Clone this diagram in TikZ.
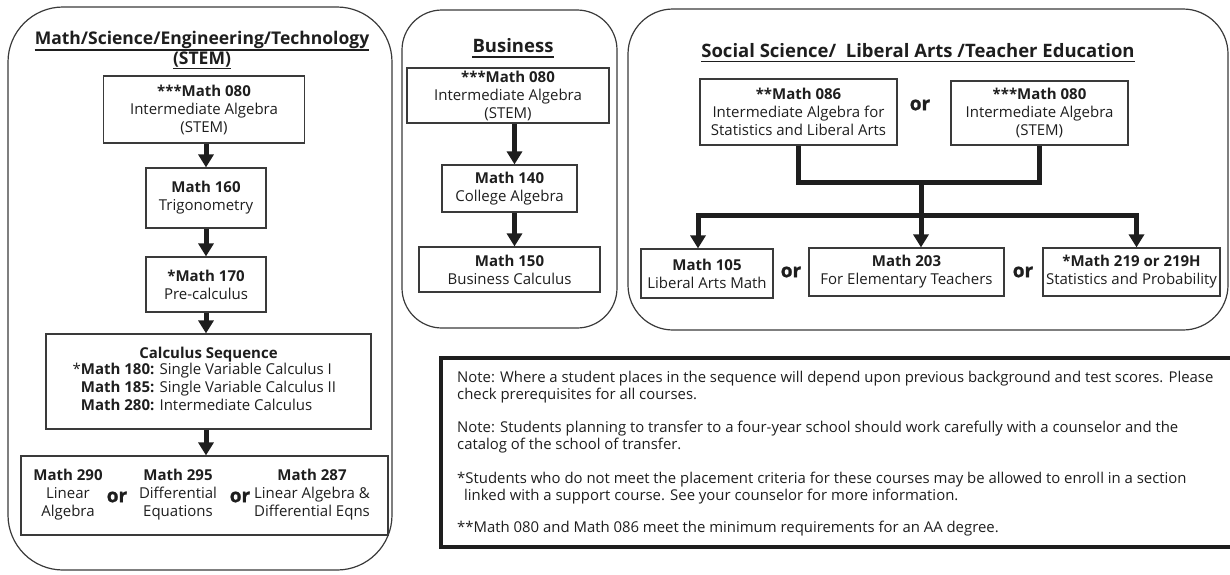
\documentclass[tikz,border=0pt]{standalone}
\usepackage{fontspec}
\setmainfont{Open Sans}
\newfontfamily\heavyfont{Open Sans}[BoldFeatures={FakeBold=1.2}]
\usetikzlibrary{arrows.meta,calc}
\newcommand\bodyfont{\fontsize{15}{18}\selectfont}
\newcommand\notefont{\fontsize{14.9}{17}\selectfont}
\definecolor{ink}{HTML}{1E1E1E}
\definecolor{frame}{HTML}{3A3A3A}
\tikzset{
  panel/.style={draw=frame, line width=1.2pt},
  crs/.style={draw=frame, line width=1.2pt, align=center, inner sep=0pt, font=\bodyfont, text=ink},
  txt/.style={align=center, inner sep=0pt, font=\bodyfont, text=ink},
  orlbl/.style={inner sep=0pt, font=\fontsize{19}{19}\heavyfont\bfseries, text=ink},
  ttl/.style={inner sep=0pt, anchor=base, font=\fontsize{18.5}{20}\selectfont\bfseries, text=ink},
  uline/.style={draw=ink, line width=1.3pt},
  note/.style={inner sep=0pt, anchor=base west, font=\notefont, text=ink},
  arr/.style={draw=ink, line width=5pt, -{Triangle[width=15pt,length=13pt]}},
  conn/.style={draw=ink, line width=5pt},
}
\begin{document}
\begin{tikzpicture}[x=1pt,y=-1pt]
\useasboundingbox (0,0) rectangle (1230,574);
\clip (0,0) rectangle (1230,574);
% ---------- panels ----------
\draw[panel, rounded corners=55pt] (8,7) rectangle (392,570);
\draw[panel, rounded corners=40pt] (402,10) rectangle (617,328);
\draw[panel, rounded corners=45pt] (628,9) rectangle (1228,330);
% ---------- STEM ----------
\node[ttl, font=\fontsize{17.5}{19}\selectfont\bfseries] (stemt1) at (202,44.5) {Math/Science/Engineering/Technology};
\node[ttl, font=\fontsize{17.5}{19}\selectfont\bfseries] (stemt2) at (202,64.5) {(STEM)};
\draw[uline] ([yshift=-5.5pt]stemt1.base west) -- ([yshift=-5.5pt]stemt1.base east);
\draw[uline] ([yshift=-3.8pt]stemt2.base west) -- ([yshift=-3.8pt]stemt2.base east);
\node[crs, minimum width=201, minimum height=67] (s080) at (204,109.5) {\textbf{***Math 080}\\Intermediate Algebra\\(STEM)};
\node[crs, minimum width=120, minimum height=60] (s160) at (206,198) {\textbf{Math 160}\\Trigonometry};
\node[crs, minimum width=120, minimum height=55] (s170) at (206,284.5) {\textbf{*Math 170}\\Pre-calculus};
\node[crs, minimum width=325, minimum height=95] (scalc) at (208.5,381.5) {\textbf{Calculus Sequence}\\[-1pt]
  \begin{tabular}{@{}l@{}}\llap{*}\textbf{Math 180:} Single Variable Calculus I\\
  \textbf{Math 185:} Single Variable Calculus II\\
  \textbf{Math 280:} Intermediate Calculus\end{tabular}};
\node[crs, minimum width=367, minimum height=79] (sbot) at (204.5,495.5) {};
\node[txt] (m290) at (68,495) {\textbf{Math 290}\\Linear\\Algebra};
\node[orlbl] (or1) at (117,497) {or};
\node[txt] (m295) at (178,495) {\textbf{Math 295}\\Differential\\Equations};
\node[orlbl] (or2) at (240,497) {or};
\node[txt] (m287) at (312,495) {\textbf{Math 287}\\Linear Algebra \&\\Differential Eqns};
\draw[arr] (s160.north |- s080.south) -- (s160.north);
\draw[arr] (s160.south) -- (s170.north);
\draw[arr] (s170.south) -- (s170.south |- scalc.north);
\draw[arr] (s170.south |- scalc.south) -- (s170.south |- sbot.north);
% ---------- Business ----------
\node[ttl] (bust) at (513,52) {Business};
\draw[uline] ([yshift=-5pt]bust.base west) -- ([yshift=-5pt]bust.base east);
\node[crs, minimum width=202, minimum height=55] (b080) at (508,95.5) {\textbf{***Math 080}\\Intermediate Algebra\\(STEM)};
\node[crs, minimum width=135, minimum height=47] (b140) at (509.5,188.5) {\textbf{Math 140}\\College Algebra};
\node[crs, minimum width=181, minimum height=45] (b150) at (509.5,269.5) {\textbf{Math 150}\\Business Calculus};
\draw[arr] ([xshift=5pt]b140.north |- b080.south) -- ([xshift=5pt]b140.north);
\draw[arr] ([xshift=5pt]b140.south) -- ([xshift=5pt]b140.south |- b150.north);
% ---------- Social Science ----------
\node[ttl] (soct) at (918,57) {Social Science/\ \ Liberal Arts /Teacher Education};
\draw[uline] ([yshift=-4.5pt]soct.base west) -- ([yshift=-4.5pt]soct.base east);
\node[crs, minimum width=197, minimum height=66] (c086) at (798.5,112) {\textbf{**Math 086}\\Intermediate Algebra for\\Statistics and Liberal Arts};
\node[orlbl] (or3) at (920,105) {or};
\node[crs, minimum width=177, minimum height=64] (c080) at (1039.5,113) {\textbf{***Math 080}\\Intermediate Algebra\\(STEM)};
\node[crs, minimum width=132, minimum height=49] (c105) at (707,273.5) {\textbf{Math 105}\\Liberal Arts Math};
\node[orlbl] (or4) at (791,272) {or};
\node[crs, minimum width=195, minimum height=48] (c203) at (906.5,272) {\textbf{Math 203}\\For Elementary Teachers};
\node[orlbl] (or5) at (1023,272) {or};
\node[crs, minimum width=177, minimum height=48] (c219) at (1131.5,272) {\textbf{*Math 219 or 219H}\\Statistics and Probability};
\coordinate (join) at (921,182);
\coordinate (split) at (921,215);
\draw[conn] (c086.south) -- (c086.south |- join) -- (c080.south |- join) -- (c080.south);
\draw[conn, line cap=rect] ([xshift=-9pt]c105.north |- split) -- ([xshift=5pt]c219.north |- split);
\draw[arr] (join) -- (join |- c203.north);
\draw[arr] ([xshift=-9pt]c105.north |- split) -- ([xshift=-9pt]c105.north);
\draw[arr] ([xshift=5pt]c219.north |- split) -- ([xshift=5pt]c219.north);
% ---------- Notes ----------
\draw[draw=ink, line width=4.5pt] (441,358) rectangle (1240,547);
\node[note] (n1) at (457,382) {Note: Where a student places in the sequence will depend upon previous background and test scores. Please};
\node[note] (n2) at (457,399) {check prerequisites for all courses.};
\node[note] (n3) at (457,432) {Note: Students planning to transfer to a four-year school should work carefully with a counselor and the};
\node[note] (n4) at (457,449) {catalog of the school of transfer.};
\node[note] (n5) at (457,483) {*Students who do not meet the placement criteria for these courses may be allowed to enroll in a section};
\node[note] (n6) at (464,500) {linked with a support course. See your counselor for more information.};
\node[note] (n7) at (457,532) {**Math 080 and Math 086 meet the minimum requirements for an AA degree.};
\end{tikzpicture}
\end{document}
